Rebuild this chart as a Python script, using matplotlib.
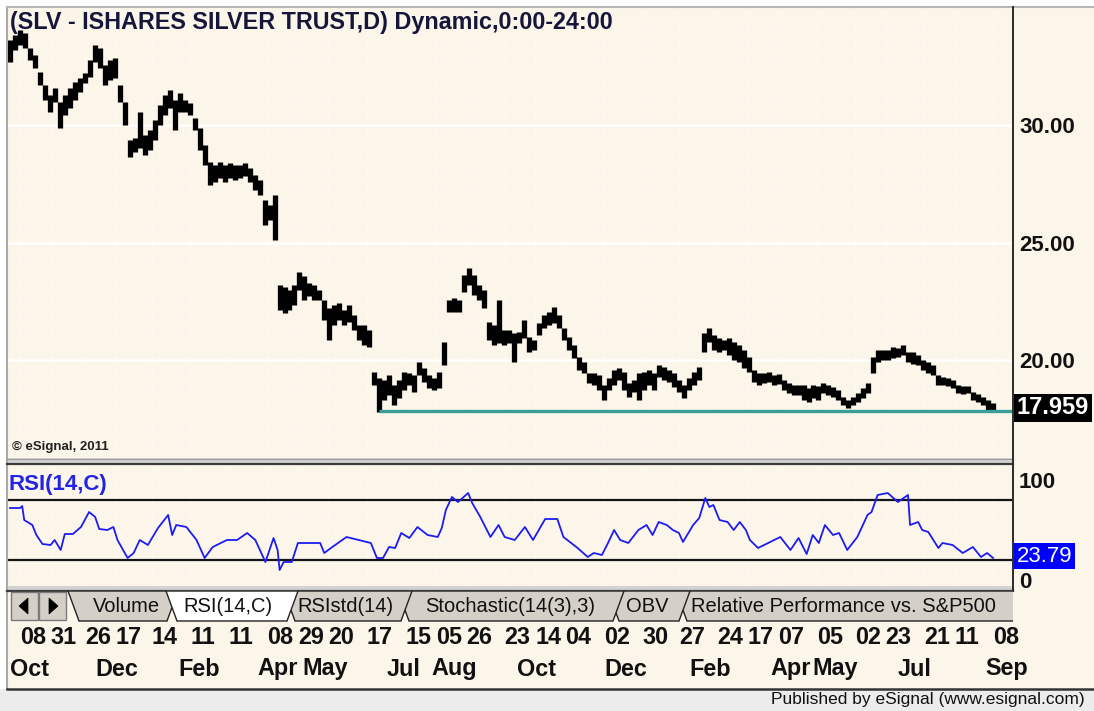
import numpy as np
import matplotlib
matplotlib.use('Agg')
import matplotlib.pyplot as plt
from matplotlib.patches import Rectangle, Polygon
from matplotlib import transforms

plt.rcParams['font.family'] = ['Liberation Sans', 'DejaVu Sans']

W, H = 1094, 711
CREAM = '#FCF6EA'

TITLE = "(SLV - ISHARES SILVER TRUST,D) Dynamic,0:00-24:00"
START = '2012-10-01'
LAST_DATE = '2014-09-08'
HOLIDAYS = ['2012-10-29', '2012-10-30', '2012-11-22', '2012-12-25', '2013-01-01',
            '2013-01-21', '2013-02-18', '2013-03-29', '2013-05-27', '2013-07-04',
            '2013-09-02', '2013-11-28', '2013-12-25', '2014-01-01', '2014-01-20',
            '2014-02-17', '2014-04-18', '2014-05-26', '2014-07-04', '2014-09-01']

# price bars (high / low), evenly spaced in time from START to LAST_DATE
bar_high = [
    33.62, 33.83, 34.04, 33.92, 33.28, 32.98, 32.26, 31.70, 31.28, 31.58,
    30.98, 31.28, 31.58, 31.83, 32.00, 32.21, 32.77, 33.41, 33.28, 32.55,
    32.77, 32.85, 31.70, 30.98, 29.36, 29.45, 30.55, 29.58, 29.79, 30.21,
    30.85, 31.28, 31.49, 31.06, 31.36, 31.06, 30.94, 30.30, 29.87, 29.15,
    28.43, 28.30, 28.43, 28.30, 28.38, 28.30, 28.30, 28.38, 28.17, 27.87,
    27.66, 26.81, 26.60, 27.02, 23.19, 23.11, 22.98, 23.19, 23.75, 23.58,
    23.28, 23.19, 22.98, 22.55, 22.21, 22.34, 22.43, 22.13, 22.34, 21.92,
    21.49, 21.49, 21.28, 19.49, 19.24, 19.15, 19.36, 18.94, 19.15, 19.49,
    19.45, 19.36, 19.92, 19.66, 19.36, 19.24, 19.49, 20.77, 22.55, 22.64,
    22.55, 23.62, 23.92, 23.62, 23.19, 22.98, 21.62, 21.49, 22.55, 21.28,
    21.28, 21.15, 21.19, 21.70, 20.98, 20.85, 21.58, 21.92, 22.04, 22.26,
    21.92, 21.36, 20.98, 20.64, 20.13, 19.92, 19.45, 19.45, 19.36, 18.94,
    19.24, 19.58, 19.66, 19.49, 19.02, 19.15, 19.45, 19.49, 19.58, 19.45,
    19.79, 19.70, 19.58, 19.45, 19.15, 18.94, 19.24, 19.49, 19.70, 21.15,
    21.36, 21.07, 20.94, 20.85, 20.94, 20.77, 20.64, 20.43, 20.13, 19.58,
    19.45, 19.45, 19.49, 19.36, 19.41, 19.15, 19.02, 18.94, 18.94, 18.94,
    18.81, 18.94, 18.88, 19.02, 18.94, 18.85, 18.73, 18.43, 18.30, 18.43,
    18.60, 18.81, 19.02, 20.13, 20.43, 20.43, 20.43, 20.56, 20.51, 20.64,
    20.34, 20.34, 20.21, 20.00, 19.92, 19.79, 19.36, 19.28, 19.24, 19.15,
    18.94, 18.88, 18.88, 18.64, 18.56, 18.43, 18.30, 18.17]
bar_low = [
    32.68, 33.19, 33.41, 33.28, 32.77, 32.43, 31.70, 31.06, 30.55, 30.98,
    29.87, 30.43, 30.72, 31.06, 31.41, 31.79, 32.04, 32.68, 32.43, 31.70,
    31.92, 32.00, 30.98, 30.00, 28.64, 28.85, 29.02, 28.72, 28.94, 29.36,
    30.00, 30.43, 30.72, 29.79, 30.55, 30.55, 30.43, 29.79, 28.94, 28.30,
    27.45, 27.58, 27.75, 27.58, 27.75, 27.66, 27.75, 27.83, 27.58, 27.24,
    27.02, 25.75, 25.96, 25.11, 22.13, 22.00, 22.13, 22.34, 22.98, 22.55,
    22.73, 22.55, 22.55, 21.70, 20.85, 21.49, 21.70, 21.49, 21.62, 21.28,
    20.85, 20.64, 20.56, 18.94, 17.79, 18.30, 18.51, 18.09, 18.39, 18.73,
    18.94, 18.64, 19.36, 19.07, 18.81, 18.73, 18.81, 19.79, 22.04, 22.04,
    22.04, 22.90, 23.19, 22.77, 22.55, 22.21, 20.85, 20.64, 20.73, 20.64,
    20.73, 19.92, 20.73, 20.94, 20.34, 20.43, 21.07, 21.36, 21.49, 21.58,
    21.36, 20.85, 20.43, 20.09, 19.58, 19.45, 19.02, 18.94, 18.73, 18.30,
    18.73, 18.94, 19.15, 18.73, 18.43, 18.64, 18.30, 18.73, 18.94, 18.73,
    19.28, 19.15, 19.07, 18.85, 18.64, 18.39, 18.73, 18.94, 19.15, 20.34,
    20.77, 20.43, 20.34, 20.43, 20.21, 20.00, 19.92, 19.66, 19.49, 19.07,
    18.94, 19.02, 19.07, 18.94, 18.98, 18.73, 18.60, 18.51, 18.51, 18.30,
    18.21, 18.39, 18.30, 18.60, 18.51, 18.43, 18.30, 18.09, 17.96, 18.09,
    18.21, 18.39, 18.60, 19.45, 19.92, 20.00, 20.00, 20.09, 20.13, 20.21,
    19.92, 19.83, 19.79, 19.58, 19.45, 19.36, 18.94, 18.94, 18.88, 18.81,
    18.60, 18.56, 18.60, 18.30, 18.21, 18.09, 17.87, 17.87]
last_price = 17.959
support_level = 17.85
support_start_day = 182

# RSI(14) readings: trading-day index and value
rsi_day = [0, 5, 6, 7, 11, 13, 16, 20, 22, 25, 27, 31, 35, 39, 42, 44, 48, 51, 53, 58,
           61, 64, 68, 73, 78, 80, 82, 87, 92, 96, 100, 107, 112, 117, 121, 126, 130, 132, 133, 135,
           139, 142, 145, 153, 155, 159, 166, 172, 178, 181, 184, 187, 190, 193, 197, 201, 206, 211, 213, 215,
           218, 221, 226, 228, 232, 237, 241, 244, 249, 254, 258, 264, 270, 273, 280, 285, 288, 292, 295, 298,
           301, 305, 310, 314, 317, 320, 324, 327, 330, 332, 337, 340, 343, 345, 347, 350, 354, 357, 360, 363,
           365, 369, 375, 380, 385, 389, 393, 396, 399, 402, 406, 409, 413, 418, 423, 425, 428, 433, 438, 443,
           444, 448, 450, 453, 458, 460, 465, 470, 475, 479, 482, 485]
rsi_val = [72, 72, 74, 60, 55, 45, 36, 35, 40, 30, 46, 46, 53, 68, 63, 51, 50, 53, 40, 22,
           27, 40, 35, 52, 65, 45, 55, 53, 40, 22, 33, 40, 40, 47, 40, 18, 42, 30, 10, 18,
           18, 37, 37, 37, 27, 33, 43, 40, 37, 22, 22, 33, 32, 47, 42, 53, 45, 43, 52, 70,
           83, 78, 87, 77, 63, 43, 55, 43, 40, 53, 40, 61, 61, 43, 32, 23, 27, 25, 37, 50,
           40, 37, 50, 55, 45, 58, 55, 50, 47, 38, 55, 62, 82, 73, 75, 60, 58, 50, 58, 50,
           40, 32, 38, 43, 30, 42, 26, 45, 37, 55, 45, 47, 30, 43, 65, 68, 85, 87, 78, 85,
           55, 58, 50, 48, 32, 37, 35, 27, 33, 23, 27, 22]
rsi_last = 23.79
rsi_bands = [20, 80]

price_ticks = [20, 25, 30]
price_tick_labels = ['20.00', '25.00', '30.00']
rsi_ticks = [0, 100]
rsi_tick_labels = ['0', '100']

day_tick_dates = ['2012-10-08', '2012-10-31', '2012-11-26', '2012-12-17', '2013-01-14',
                  '2013-02-11', '2013-03-11', '2013-04-08', '2013-04-29', '2013-05-20',
                  '2013-06-17', '2013-07-15', '2013-08-05', '2013-08-26', '2013-09-23',
                  '2013-10-14', '2013-11-04', '2013-12-02', '2013-12-30', '2014-01-27',
                  '2014-02-24', '2014-03-17', '2014-04-07', '2014-05-05', '2014-06-02',
                  '2014-06-23', '2014-07-21', '2014-08-11', '2014-09-08']
day_tick_labels = ['08', '31', '26', '17', '14', '11', '11', '08', '29', '20', '17', '15', '05',
                   '26', '23', '14', '04', '02', '30', '27', '24', '17', '07', '05', '02', '23',
                   '21', '11', '08']
month_tick_dates = ['2012-10-01', '2012-12-03', '2013-02-01', '2013-04-01', '2013-05-01',
                    '2013-07-01', '2013-08-01', '2013-10-01', '2013-12-02', '2014-02-03',
                    '2014-04-01', '2014-05-01', '2014-07-01', '2014-09-02']
month_tick_labels = ['Oct', 'Dec', 'Feb', 'Apr', 'May', 'Jul', 'Aug', 'Oct', 'Dec', 'Feb',
                     'Apr', 'May', 'Jul', 'Sep']

tab_names = ['Volume', 'RSI(14,C)', 'RSIstd(14)', 'Stochastic(14(3),3)', 'OBV',
             'Relative Performance vs. S&P500']
selected_tab = 'RSI(14,C)'


def tday(d):
    return np.busday_count(START, np.array(d, dtype='datetime64[D]'), holidays=HOLIDAYS)


last_day = int(tday(LAST_DATE))
bar_days = np.linspace(0, last_day, len(bar_high))
day_ticks = tday(day_tick_dates)
month_ticks = tday(month_tick_dates)

fig = plt.figure(figsize=(W / 100, H / 100), dpi=100, facecolor='white')

# ---------- background (pixel coordinates) ----------
bg = fig.add_axes([0, 0, 1, 1], zorder=-10)
bg.set_xlim(0, W)
bg.set_ylim(H, 0)
bg.axis('off')
bg.add_patch(Rectangle((7, 7), W - 7, 681, fc=CREAM, ec='none'))
bg.plot([7, 7], [7, 688], color='#A9A9A9', lw=1.5)
bg.plot([7, W], [7, 7], color='#B5B5B5', lw=1.5)
# separator between panels
bg.add_patch(Rectangle((7, 458), 1006, 7, fc='#D2D2D2', ec='none'))
bg.plot([7, 1013], [458.5, 458.5], color='#9A9A9A', lw=0.8)
bg.plot([7, 1013], [464, 464], color='#3C3C3C', lw=1.6)
bg.add_patch(Rectangle((7, 586), 1006, 5, fc='#D2D2D2', ec='none'))
bg.plot([7, 1013], [590.5, 590.5], color='#3C3C3C', lw=1.6)
bg.plot([1012.5, 1012.5], [7, 591], color='#2A2A2A', lw=1.4)
# footer
bg.add_patch(Rectangle((0, 689), W, 22, fc='#ECECEC', ec='none'))
bg.plot([7, W], [689, 689], color='#333333', lw=1.8)
bg.text(1085, 699.5, 'Published by eSignal (www.esignal.com)', ha='right', va='center',
        fontsize=12.5, color='#111111')

# ---------- tab strip ----------
axt = fig.add_axes([7 / W, 1 - 623 / H, (1013 - 7) / W, 32 / H], zorder=5)
axt.set_xlim(7, 1013)
axt.set_ylim(623, 591)
axt.axis('off')
for bx, tri in [(11, [(28, 598), (28, 614), (19, 606)]), (39, [(49, 598), (49, 614), (58, 606)])]:
    axt.add_patch(Rectangle((bx, 592), 27, 28, fc='#D4D0C8', ec='#7A7A7A', lw=1.0))
    axt.add_patch(Polygon(tri, closed=True, fc='black', ec='black', lw=0.5))
tab_spans = [(68, 178), (166, 298), (284, 412), (398, 624), (608, 690), (676, 1060)]
tab_text_x = [126, 228, 345, 510, 647, 691]
order = [i for i in range(len(tab_names)) if tab_names[i] != selected_tab][::-1] + \
        [tab_names.index(selected_tab)]
for i in order:
    a, b = tab_spans[i]
    sel = tab_names[i] == selected_tab
    poly = [(a, 591), (b, 591), (b - 11, 621), (a + 11, 621)]
    axt.add_patch(Polygon(poly, closed=True, fc='white' if sel else '#D4D0C8',
                          ec='#222222', lw=1.0))
    ha = 'left' if i == len(tab_names) - 1 else 'center'
    axt.text(tab_text_x[i], 606.5, tab_names[i], ha=ha, va='center', fontsize=14.5,
             color='#111111', clip_on=True)

# ---------- price panel ----------
ax = fig.add_axes([8 / W, 1 - 458 / H, (1012 - 8) / W, (458 - 8) / H])
ax.set_facecolor('none')
ax.set_xlim(-1.0, 494.3)
ax.set_ylim(35.32 - 458 / 23.5, 35.32 - 8 / 23.5)
for s in ax.spines.values():
    s.set_visible(False)
for t in price_ticks:
    ax.axhline(t, color='white', lw=1.8, zorder=1)
for d in day_ticks:
    ax.axvline(d, color='white', lw=1.0, ls=(0, (1, 3)), zorder=1)
ax.vlines(bar_days, bar_low, bar_high, color='black', lw=3.8, zorder=3)
ax.plot([support_start_day, 494.3], [support_level, support_level], color='#3C9C98',
        lw=2.4, zorder=4, solid_capstyle='butt')
ax.set_xticks([])
ax.yaxis.tick_right()
ax.set_yticks(price_ticks)
ax.set_yticklabels(price_tick_labels, fontsize=16, fontweight='bold', color='#111111')
ax.tick_params(axis='y', length=0, pad=5)
ax.annotate(f'{last_price:.3f}', xy=(1, last_price), xycoords=('axes fraction', 'data'),
            xytext=(3.5, 0), textcoords='offset points', ha='left', va='center',
            fontsize=17, fontweight='bold', color='white',
            bbox=dict(boxstyle='square,pad=0.12', fc='black', ec='none'), zorder=6,
            annotation_clip=False)
ax.text(0.002, 0.968, TITLE, transform=ax.transAxes, ha='left', va='center',
        fontsize=16.8, fontweight='bold', color='#15163A', zorder=6)
ax.text(0.004, 0.025, '\u00a9 eSignal, 2011', transform=ax.transAxes, ha='left',
        va='center', fontsize=9.5, fontweight='bold', color='#222222', zorder=6)

# ---------- RSI panel ----------
axr = fig.add_axes([8 / W, 1 - 586 / H, (1012 - 8) / W, (586 - 465) / H])
axr.set_facecolor('none')
axr.set_xlim(-1.0, 494.3)
axr.set_ylim(580 - 586, 580 - 465)
for s in axr.spines.values():
    s.set_visible(False)
for d in day_ticks:
    axr.axvline(d, color='white', lw=1.0, ls=(0, (1, 3)), zorder=1)
for b in rsi_bands:
    axr.axhline(b, color='#151515', lw=1.6, zorder=2)
axr.plot(rsi_day, rsi_val, color='#1C1CF2', lw=1.3, zorder=3)
axr.set_xticks([])
axr.yaxis.tick_right()
axr.set_yticks(rsi_ticks)
axr.set_yticklabels(rsi_tick_labels, fontsize=16, fontweight='bold', color='#111111')
axr.tick_params(axis='y', length=0, pad=5)
axr.annotate(f'{rsi_last:.2f}', xy=(1, rsi_last), xycoords=('axes fraction', 'data'),
             xytext=(3.5, 0), textcoords='offset points', ha='left', va='center',
             fontsize=16, color='white',
             bbox=dict(boxstyle='square,pad=0.12', fc='#0000FF', ec='none'), zorder=6,
             annotation_clip=False)
axr.text(0.0, 0.84, 'RSI(14,C)', transform=axr.transAxes, ha='left', va='center',
         fontsize=16, fontweight='bold', color='#2323E6', zorder=6)

# ---------- date labels ----------
tr = transforms.blended_transform_factory(axr.transData, fig.transFigure)
for d, lab in zip(day_ticks, day_tick_labels):
    fig.text(d, 1 - 638 / H, lab, transform=tr, ha='left', va='center', fontsize=16.8,
             fontweight='bold', color='#111111')
for d, lab in zip(month_ticks, month_tick_labels):
    fig.text(d, 1 - 669 / H, lab, transform=tr, ha='left', va='center', fontsize=16.8,
             fontweight='bold', color='#111111')

fig.savefig('out.png', dpi=100, facecolor=fig.get_facecolor())
